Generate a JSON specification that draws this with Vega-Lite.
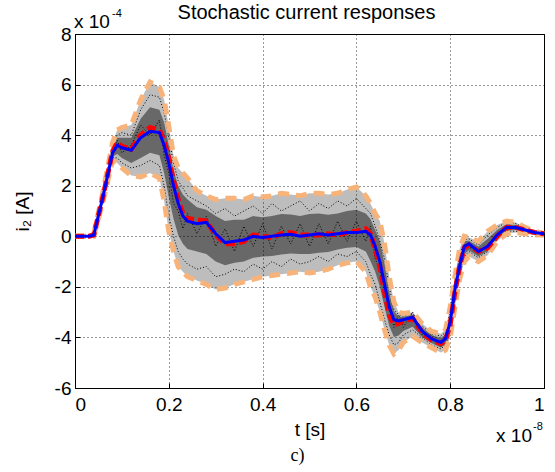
{
"$schema": "https://vega.github.io/schema/vega-lite/v6.json",
"width": 469, "height": 354,
"autosize": {"type": "none"},
"padding": {"left": 75, "top": 34, "right": 11, "bottom": 84},
"background": "white",
"config": {
  "view": {"stroke": "black", "strokeWidth": 1},
  "axis": {"grid": true, "gridColor": "black", "gridDash": [1, 3], "gridOpacity": 0.8, "domain": false, "tickColor": "black", "tickSize": -5, "labelFont": "Liberation Sans", "labelFontSize": 19, "labelColor": "black", "titleFont": "Liberation Sans", "titleFontSize": 19, "titleFontWeight": "normal", "titleColor": "black"}
},
"data": {"values": [
{"t":0,"m":0,"r":0,"u":0,"l":0,"ih":0,"il":0,"s1":0,"s2":0,"s3":0},
{"t":0.02,"m":0,"r":0,"u":0,"l":0,"ih":0,"il":0,"s1":0,"s2":0,"s3":0},
{"t":0.03,"m":0,"r":0,"u":0,"l":0,"ih":0,"il":0,"s1":0,"s2":0,"s3":0},
{"t":0.04,"m":0.05,"r":0.05,"u":0.1,"l":0,"ih":0.07,"il":0.03,"s1":0.08,"s2":0.02,"s3":0.05},
{"t":0.06,"m":1.6,"r":1.6,"u":1.8,"l":1.4,"ih":1.7,"il":1.5,"s1":1.75,"s2":1.45,"s3":1.55},
{"t":0.08,"m":3.3,"r":3.35,"u":3.7,"l":3.0,"ih":3.5,"il":3.15,"s1":3.6,"s2":3.1,"s3":3.4},
{"t":0.09,"m":3.6,"r":3.7,"u":4.2,"l":2.9,"ih":3.9,"il":3.25,"s1":4.0,"s2":3.1,"s3":3.8},
{"t":0.10,"m":3.5,"r":3.55,"u":4.3,"l":2.7,"ih":3.9,"il":3.1,"s1":4.1,"s2":2.9,"s3":3.3},
{"t":0.12,"m":3.4,"r":3.45,"u":4.4,"l":2.4,"ih":3.9,"il":2.9,"s1":4.0,"s2":2.7,"s3":3.6},
{"t":0.14,"m":3.9,"r":4.0,"u":5.4,"l":2.35,"ih":4.65,"il":3.1,"s1":5.0,"s2":2.8,"s3":4.4},
{"t":0.16,"m":4.15,"r":4.3,"u":6.1,"l":2.5,"ih":5.1,"il":3.3,"s1":5.6,"s2":3.0,"s3":4.0},
{"t":0.18,"m":4.1,"r":4.2,"u":5.9,"l":2.3,"ih":5.0,"il":3.2,"s1":5.5,"s2":2.8,"s3":4.6},
{"t":0.19,"m":3.6,"r":3.75,"u":5.4,"l":1.4,"ih":4.5,"il":2.5,"s1":4.9,"s2":2.0,"s3":3.2},
{"t":0.20,"m":2.9,"r":3.1,"u":4.35,"l":0.2,"ih":3.6,"il":1.55,"s1":3.9,"s2":0.8,"s3":2.5},
{"t":0.21,"m":2.0,"r":2.2,"u":3.2,"l":-0.6,"ih":2.6,"il":0.7,"s1":2.9,"s2":0.0,"s3":1.3},
{"t":0.22,"m":1.3,"r":1.45,"u":2.7,"l":-1.2,"ih":2.0,"il":0.05,"s1":2.2,"s2":-0.6,"s3":1.0},
{"t":0.23,"m":0.8,"r":0.9,"u":2.5,"l":-1.4,"ih":1.65,"il":-0.3,"s1":1.9,"s2":-0.9,"s3":0.3},
{"t":0.24,"m":0.6,"r":0.7,"u":2.3,"l":-1.6,"ih":1.45,"il":-0.5,"s1":1.6,"s2":-1.1,"s3":0.9},
{"t":0.26,"m":0.5,"r":0.65,"u":1.8,"l":-1.75,"ih":1.15,"il":-0.6,"s1":1.4,"s2":-1.3,"s3":0.1},
{"t":0.28,"m":0.55,"r":0.6,"u":1.6,"l":-1.9,"ih":1.05,"il":-0.7,"s1":1.2,"s2":-1.2,"s3":0.8},
{"t":0.30,"m":0.1,"r":0.05,"u":1.45,"l":-2.1,"ih":0.8,"il":-1.0,"s1":0.9,"s2":-1.6,"s3":-0.4},
{"t":0.32,"m":-0.25,"r":-0.3,"u":1.5,"l":-2.05,"ih":0.6,"il":-1.15,"s1":1.1,"s2":-1.5,"s3":0.3},
{"t":0.34,"m":-0.2,"r":-0.3,"u":1.5,"l":-1.9,"ih":0.65,"il":-1.05,"s1":0.8,"s2":-1.3,"s3":-0.6},
{"t":0.36,"m":-0.15,"r":-0.2,"u":1.45,"l":-1.8,"ih":0.65,"il":-1.0,"s1":1.0,"s2":-1.4,"s3":0.4},
{"t":0.38,"m":0,"r":0.05,"u":1.6,"l":-1.7,"ih":0.8,"il":-0.85,"s1":1.2,"s2":-1.1,"s3":-0.4},
{"t":0.40,"m":-0.05,"r":0,"u":1.55,"l":-1.6,"ih":0.75,"il":-0.8,"s1":0.9,"s2":-1.3,"s3":0.5},
{"t":0.42,"m":0,"r":-0.05,"u":1.6,"l":-1.55,"ih":0.8,"il":-0.78,"s1":1.3,"s2":-1.0,"s3":-0.5},
{"t":0.44,"m":0.05,"r":0.1,"u":1.7,"l":-1.5,"ih":0.88,"il":-0.72,"s1":1.0,"s2":-1.2,"s3":0.4},
{"t":0.46,"m":0.08,"r":0.15,"u":1.65,"l":-1.45,"ih":0.86,"il":-0.68,"s1":1.2,"s2":-0.9,"s3":-0.3},
{"t":0.48,"m":0,"r":0.05,"u":1.6,"l":-1.4,"ih":0.8,"il":-0.7,"s1":1.4,"s2":-1.1,"s3":0.5},
{"t":0.50,"m":0.05,"r":0.05,"u":1.7,"l":-1.45,"ih":0.88,"il":-0.7,"s1":1.0,"s2":-1.0,"s3":-0.4},
{"t":0.52,"m":0.1,"r":0.05,"u":1.7,"l":-1.4,"ih":0.9,"il":-0.65,"s1":1.3,"s2":-0.8,"s3":0.5},
{"t":0.54,"m":0.05,"r":0.1,"u":1.65,"l":-1.3,"ih":0.85,"il":-0.62,"s1":1.1,"s2":-1.0,"s3":-0.3},
{"t":0.56,"m":0.1,"r":0.05,"u":1.7,"l":-1.15,"ih":0.9,"il":-0.52,"s1":1.4,"s2":-0.7,"s3":0.6},
{"t":0.58,"m":0.15,"r":0.15,"u":1.85,"l":-1.05,"ih":1.0,"il":-0.45,"s1":1.2,"s2":-0.8,"s3":-0.2},
{"t":0.60,"m":0.15,"r":0.2,"u":1.95,"l":-1.0,"ih":1.05,"il":-0.42,"s1":1.5,"s2":-0.6,"s3":0.6},
{"t":0.62,"m":0.2,"r":0.3,"u":1.6,"l":-1.4,"ih":0.9,"il":-0.6,"s1":1.1,"s2":-1.0,"s3":-0.2},
{"t":0.63,"m":0.05,"r":0.1,"u":1.3,"l":-2.0,"ih":0.68,"il":-0.98,"s1":0.9,"s2":-1.5,"s3":0.4},
{"t":0.64,"m":-0.4,"r":-0.5,"u":0.9,"l":-2.4,"ih":0.25,"il":-1.4,"s1":0.4,"s2":-1.9,"s3":-0.9},
{"t":0.65,"m":-1.0,"r":-1.2,"u":0.6,"l":-3.0,"ih":-0.2,"il":-2.0,"s1":-0.2,"s2":-2.6,"s3":-1.3},
{"t":0.66,"m":-1.9,"r":-2.2,"u":-0.3,"l":-3.7,"ih":-1.1,"il":-2.8,"s1":-0.9,"s2":-3.3,"s3":-2.3},
{"t":0.67,"m":-2.8,"r":-3.1,"u":-1.6,"l":-4.3,"ih":-2.2,"il":-3.55,"s1":-2.0,"s2":-3.9,"s3":-2.6},
{"t":0.68,"m":-3.3,"r":-3.5,"u":-2.6,"l":-4.65,"ih":-2.95,"il":-3.98,"s1":-2.9,"s2":-4.3,"s3":-3.6},
{"t":0.69,"m":-3.35,"r":-3.45,"u":-3.0,"l":-4.5,"ih":-3.18,"il":-3.92,"s1":-3.1,"s2":-4.2,"s3":-3.1},
{"t":0.70,"m":-3.3,"r":-3.35,"u":-3.05,"l":-4.2,"ih":-3.18,"il":-3.75,"s1":-3.15,"s2":-3.9,"s3":-3.6},
{"t":0.72,"m":-3.2,"r":-3.25,"u":-3.0,"l":-3.95,"ih":-3.1,"il":-3.58,"s1":-3.05,"s2":-3.7,"s3":-3.0},
{"t":0.74,"m":-3.75,"r":-3.8,"u":-3.45,"l":-4.2,"ih":-3.6,"il":-3.98,"s1":-3.55,"s2":-4.0,"s3":-3.9},
{"t":0.76,"m":-4.05,"r":-4.1,"u":-3.75,"l":-4.4,"ih":-3.9,"il":-4.22,"s1":-3.85,"s2":-4.3,"s3":-3.9},
{"t":0.78,"m":-4.2,"r":-4.25,"u":-3.85,"l":-4.6,"ih":-4.02,"il":-4.4,"s1":-3.95,"s2":-4.45,"s3":-4.35},
{"t":0.79,"m":-4.05,"r":-4.1,"u":-3.7,"l":-4.5,"ih":-3.88,"il":-4.28,"s1":-3.8,"s2":-4.3,"s3":-3.9},
{"t":0.80,"m":-3.4,"r":-3.5,"u":-2.8,"l":-4.0,"ih":-3.1,"il":-3.7,"s1":-3.0,"s2":-3.8,"s3":-3.5},
{"t":0.81,"m":-2.1,"r":-2.2,"u":-1.6,"l":-2.8,"ih":-1.85,"il":-2.45,"s1":-1.8,"s2":-2.5,"s3":-2.0},
{"t":0.82,"m":-1.2,"r":-1.2,"u":-0.5,"l":-1.7,"ih":-0.85,"il":-1.45,"s1":-0.8,"s2":-1.5,"s3":-1.3},
{"t":0.83,"m":-0.4,"r":-0.45,"u":0,"l":-1.0,"ih":-0.2,"il":-0.7,"s1":-0.15,"s2":-0.8,"s3":-0.3},
{"t":0.84,"m":-0.3,"r":-0.35,"u":-0.05,"l":-0.8,"ih":-0.18,"il":-0.55,"s1":-0.1,"s2":-0.6,"s3":-0.45},
{"t":0.86,"m":-0.6,"r":-0.6,"u":-0.2,"l":-1.0,"ih":-0.4,"il":-0.8,"s1":-0.35,"s2":-0.85,"s3":-0.5},
{"t":0.88,"m":-0.4,"r":-0.45,"u":0.2,"l":-0.75,"ih":-0.1,"il":-0.58,"s1":0.05,"s2":-0.6,"s3":-0.5},
{"t":0.90,"m":0.05,"r":0,"u":0.45,"l":-0.2,"ih":0.25,"il":-0.08,"s1":0.35,"s2":-0.1,"s3":0.1},
{"t":0.92,"m":0.35,"r":0.35,"u":0.6,"l":0.1,"ih":0.48,"il":0.22,"s1":0.55,"s2":0.2,"s3":0.3},
{"t":0.94,"m":0.35,"r":0.35,"u":0.55,"l":0.15,"ih":0.45,"il":0.25,"s1":0.5,"s2":0.2,"s3":0.4},
{"t":0.96,"m":0.25,"r":0.25,"u":0.35,"l":0.1,"ih":0.3,"il":0.18,"s1":0.3,"s2":0.15,"s3":0.22},
{"t":0.98,"m":0.15,"r":0.15,"u":0.2,"l":0.05,"ih":0.18,"il":0.1,"s1":0.18,"s2":0.08,"s3":0.15},
{"t":1.0,"m":0.1,"r":0.1,"u":0.1,"l":0.05,"ih":0.1,"il":0.07,"s1":0.1,"s2":0.06,"s3":0.1}
]},
"layer": [
  {"mark": {"type": "area", "color": "black", "opacity": 0.26},
   "encoding": {
     "x": {"field": "t", "type": "quantitative", "title": "t [s]", "scale": {"domain": [0, 1], "nice": false}, "axis": {"values": [0, 0.2, 0.4, 0.6, 0.8, 1], "labelPadding": 12, "titlePadding": 6, "labelExpr": "datum.value == 0 ? '0' : datum.value == 1 ? '1' : format(datum.value, '.1f')"}},
     "y": {"field": "u", "type": "quantitative", "title": "i₂ [A]", "scale": {"domain": [-6, 8], "nice": false}, "axis": {"values": [-6, -4, -2, 0, 2, 4, 6, 8], "labelPadding": 9, "titlePadding": 22, "labelExpr": "'' + datum.value"}},
     "y2": {"field": "l"}}},
  {"mark": {"type": "area", "color": "black", "opacity": 0.45},
   "encoding": {"x": {"field": "t", "type": "quantitative"}, "y": {"field": "ih", "type": "quantitative"}, "y2": {"field": "il"}}},
  {"mark": {"type": "line", "color": "black", "strokeWidth": 1, "strokeDash": [1, 2]},
   "encoding": {"x": {"field": "t", "type": "quantitative"}, "y": {"field": "s1", "type": "quantitative"}}},
  {"mark": {"type": "line", "color": "black", "strokeWidth": 1, "strokeDash": [1, 2]},
   "encoding": {"x": {"field": "t", "type": "quantitative"}, "y": {"field": "s2", "type": "quantitative"}}},
  {"mark": {"type": "line", "color": "black", "strokeWidth": 1, "strokeDash": [1, 2]},
   "encoding": {"x": {"field": "t", "type": "quantitative"}, "y": {"field": "s3", "type": "quantitative"}}},
  {"mark": {"type": "line", "color": "#F7B37A", "strokeWidth": 5, "strokeDash": [11, 7]},
   "encoding": {"x": {"field": "t", "type": "quantitative"}, "y": {"field": "u", "type": "quantitative"}}},
  {"mark": {"type": "line", "color": "#F7B37A", "strokeWidth": 5, "strokeDash": [11, 7]},
   "encoding": {"x": {"field": "t", "type": "quantitative"}, "y": {"field": "l", "type": "quantitative"}}},
  {"mark": {"type": "line", "color": "#FF0000", "strokeWidth": 5, "strokeDash": [9, 4]},
   "encoding": {"x": {"field": "t", "type": "quantitative"}, "y": {"field": "r", "type": "quantitative"}}},
  {"mark": {"type": "line", "color": "#0000FF", "strokeWidth": 3},
   "encoding": {"x": {"field": "t", "type": "quantitative"}, "y": {"field": "m", "type": "quantitative"}}},
  {"data": {"values": [{"a": 1}]},
   "mark": {"type": "text", "text": "Stochastic current responses", "align": "center", "baseline": "alphabetic", "dx": -3, "dy": -15, "font": "Liberation Sans", "fontSize": 20, "fill": "black"},
   "encoding": {"x": {"datum": 0.5, "type": "quantitative"}, "y": {"datum": 8, "type": "quantitative"}}},
  {"data": {"values": [{"a": 1}]},
   "mark": {"type": "text", "text": "x 10", "align": "left", "baseline": "alphabetic", "dx": -1, "dy": -6, "font": "Liberation Sans", "fontSize": 19, "fill": "black"},
   "encoding": {"x": {"datum": 0, "type": "quantitative"}, "y": {"datum": 8, "type": "quantitative"}}},
  {"data": {"values": [{"a": 1}]},
   "mark": {"type": "text", "text": "-4", "align": "left", "baseline": "alphabetic", "dx": 37, "dy": -17, "font": "Liberation Sans", "fontSize": 11, "fill": "black"},
   "encoding": {"x": {"datum": 0, "type": "quantitative"}, "y": {"datum": 8, "type": "quantitative"}}},
  {"data": {"values": [{"a": 1}]},
   "mark": {"type": "text", "text": "x 10", "align": "right", "baseline": "alphabetic", "dx": -12, "dy": 54, "font": "Liberation Sans", "fontSize": 19, "fill": "black"},
   "encoding": {"x": {"datum": 1, "type": "quantitative"}, "y": {"datum": -6, "type": "quantitative"}}},
  {"data": {"values": [{"a": 1}]},
   "mark": {"type": "text", "text": "-8", "align": "left", "baseline": "alphabetic", "dx": -11, "dy": 42, "font": "Liberation Sans", "fontSize": 11, "fill": "black"},
   "encoding": {"x": {"datum": 1, "type": "quantitative"}, "y": {"datum": -6, "type": "quantitative"}}},
  {"data": {"values": [{"a": 1}]},
   "mark": {"type": "text", "text": "c)", "align": "center", "baseline": "alphabetic", "dx": -12, "dy": 73, "font": "Liberation Serif", "fontSize": 18, "fill": "black"},
   "encoding": {"x": {"datum": 0.5, "type": "quantitative"}, "y": {"datum": -6, "type": "quantitative"}}}
]
}
